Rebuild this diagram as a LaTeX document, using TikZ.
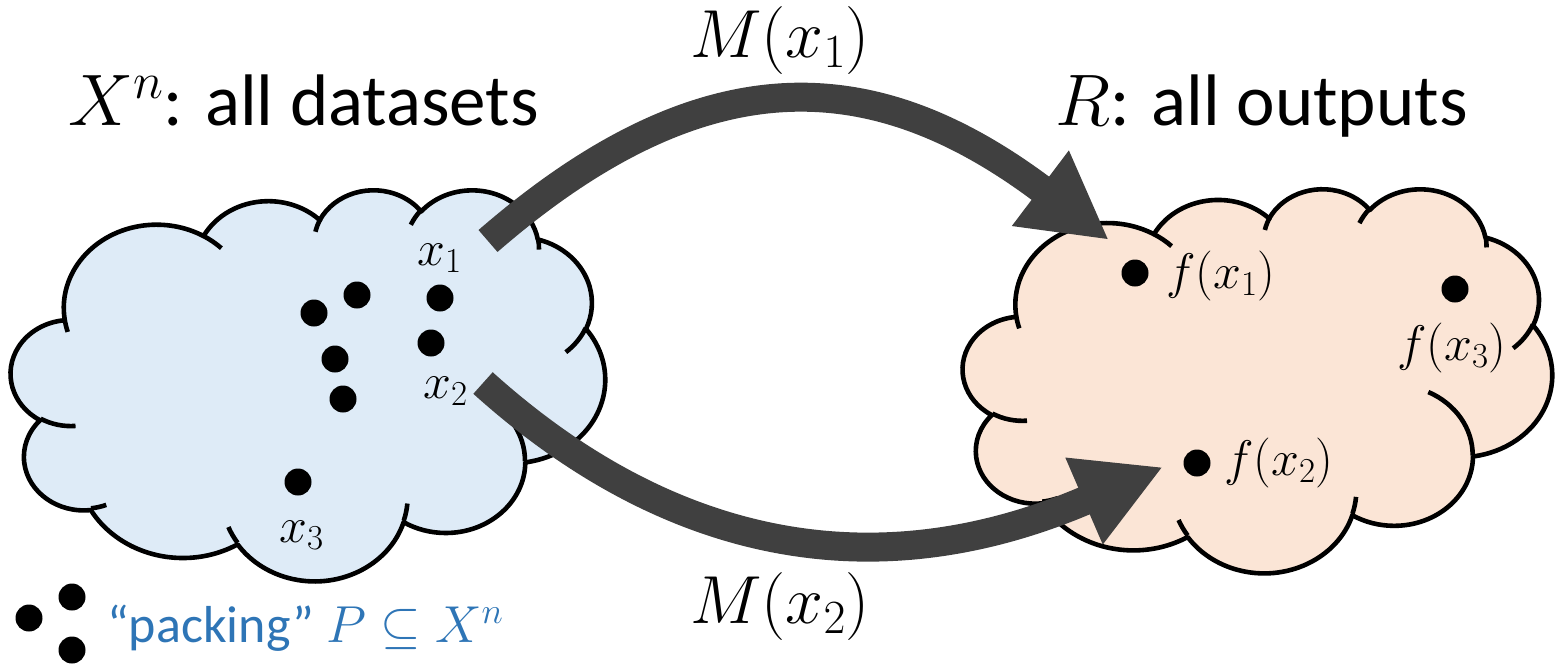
\documentclass[tikz,border=0pt]{standalone}
\usepackage{fix-cm}
\usepackage[no-math]{fontspec}
\setmainfont{Carlito}
\usetikzlibrary{arrows.meta}

\definecolor{setblue}{HTML}{DEEBF7}
\definecolor{setpeach}{HTML}{FBE5D6}
\definecolor{mapgray}{HTML}{404040}
\definecolor{packblue}{HTML}{2E75B6}

% One bump of a cloud outline: elliptical arc with radii #1,#2 starting at the
% visual angle #3 and sweeping #4 degrees (y axis pointing downwards).
\newcommand\bumparc[4]{%
  \pgfextra{%
    \pgfmathparse{atan2((#1)*sin(#3),(#2)*cos(#3))}\xdef\bumpS{\pgfmathresult}%
    \pgfmathparse{atan2((#1)*sin((#3)+(#4)),(#2)*cos((#3)+(#4)))}\xdef\bumpE{\pgfmathresult}%
    \pgfmathparse{\bumpE<\bumpS ? \bumpE+360 : \bumpE}\xdef\bumpE{\pgfmathresult}%
  }%
  arc[start angle=\bumpS, end angle=\bumpE, x radius=#1, y radius=#2]%
}

% Cloud outline in a 432 x 432 box
\newcommand\cloudoutline{%
  (39.00,143.70)
  \bumparc{67.53}{91.90}{-190.4875}{123.7805}
  \bumparc{53.33}{72.67}{-144.1024}{89.9452}
  \bumparc{43.65}{59.45}{-145.8079}{99.7230}
  \bumparc{48.57}{65.95}{-130.9861}{117.2417}
  \bumparc{53.33}{72.73}{-78.7089}{109.0269}
  \bumparc{67.75}{92.20}{-46.2673}{130.2690}
  \bumparc{57.85}{78.67}{0.6250}{114.0333}
  \bumparc{67.52}{92.15}{22.4516}{115.1726}
  \bumparc{77.20}{105.43}{66.2426}{75.7110}
  \bumparc{43.60}{59.18}{-274.9421}{146.7356}
  \bumparc{43.45}{59.45}{-246.8285}{152.5189}
  -- cycle}

% Short inner creases between the bumps
\newcommand\cloudcreases{%
  (46.93,261.77) \bumparc{43.45}{59.45}{86.7420}{26.4295}
  (69.28,348.99) \bumparc{43.60}{59.18}{73.6105}{11.4475}
  (164.78,390.90) \bumparc{67.52}{92.15}{137.6242}{14.0811}
  (288.27,347.51) \bumparc{67.52}{92.15}{6.4533}{15.9984}
  (341.29,229.54) \bumparc{57.85}{78.67}{-70.2924}{70.9174}
  (417.98,153.54) \bumparc{53.33}{72.73}{30.3180}{27.7515}
  (383.24,54.26) \bumparc{48.57}{65.95}{-13.7443}{14.8589}
  (290.78,39.52) \bumparc{48.57}{65.95}{-149.1815}{18.1954}
  (221.41,47.20) \bumparc{43.65}{59.45}{-163.4943}{17.6864}
  (140.00,51.92) \bumparc{67.53}{91.90}{-66.7070}{12.3194}
  (41.27,157.89) \bumparc{67.53}{91.90}{157.6544}{11.8582}
}

\tikzset{
  cloudline/.style={draw=black, line width=4.6pt, line join=round},
  elem/.style={circle, fill=black, inner sep=0pt, minimum size=27pt},
  mathlbl/.style={anchor=base west, inner sep=0pt, font=\fontsize{50}{60}\selectfont},
  heading/.style={anchor=base west, inner sep=0pt, font=\fontsize{73}{80}\selectfont},
  maplbl/.style={anchor=base west, inner sep=0pt, font=\fontsize{68}{72}\selectfont},
  mapsto/.style={draw=mapgray, line width=29pt, -{Triangle[length=86pt, width=88pt]}},
}

\begin{document}
\begin{tikzpicture}[x=1pt, y=-1pt]
\useasboundingbox (0,0) rectangle (1555,664);

% the set of all datasets
\begin{scope}[shift={(11,189)}, x=1.375pt, y=-0.90509pt]
  \path[cloudline, fill=setblue] \cloudoutline;
  \path[cloudline] \cloudcreases;
\end{scope}

% the set of all outputs
\begin{scope}[shift={(963,188)}, x=1.36343pt, y=-0.88889pt]
  \path[cloudline, fill=setpeach] \cloudoutline;
  \path[cloudline] \cloudcreases;
\end{scope}

% packing points
\node[elem] (p1) at (440,298) {};
\node[elem] (p2) at (431,343) {};
\node[elem] (p3) at (298,482) {};
\node[elem] (p4) at (314,313) {};
\node[elem] (p5) at (357,295) {};
\node[elem] (p6) at (335,359) {};
\node[elem] (p7) at (343,399) {};

\node[mathlbl] (lx1) at (417,265) {$x_1$};
\node[mathlbl] (lx2) at (423,398) {$x_2$};
\node[mathlbl] (lx3) at (279,542) {$x_3$};

% images
\node[elem] (f1) at (1135,273) {};
\node[elem] (f2) at (1197,463) {};
\node[elem] (f3) at (1455,289) {};

\node[mathlbl] (lf1) at (1166,288) {$f(x_1)$};
\node[mathlbl] (lf2) at (1224,475) {$f(x_2)$};
\node[mathlbl] (lf3) at (1397,360) {$f(x_3)$};

% headings
\node[heading] (hx) at (68,125) {$X^n$: all datasets};
\node[heading] (hr) at (1055,125) {$R$: all outputs};

% mechanism arrows
\coordinate (m1s) at (488,241);
\coordinate (m1t) at (1109,240);
\coordinate (m2s) at (483,383);
\coordinate (m2t) at (1163,467);
\draw[mapsto] (m1s) .. controls +(219,-190) and +(-232,-175) .. (m1t);
\draw[mapsto] (m2s) .. controls +(171,154) and +(-304,131) .. (m2t);

\node[maplbl] (lm1) at (690,57) {$M(x_1)$};
\node[maplbl] (lm2) at (690,623) {$M(x_2)$};

% legend
\node[elem] (k1) at (29,618) {};
\node[elem] (k2) at (72,597) {};
\node[elem] (k3) at (72,650) {};
\node[anchor=base west, inner sep=0pt, text=packblue, font=\fontsize{52}{60}\selectfont]
  (leg) at (107,642) {“packing” $P \subseteq X^n$};
\end{tikzpicture}
\end{document}
